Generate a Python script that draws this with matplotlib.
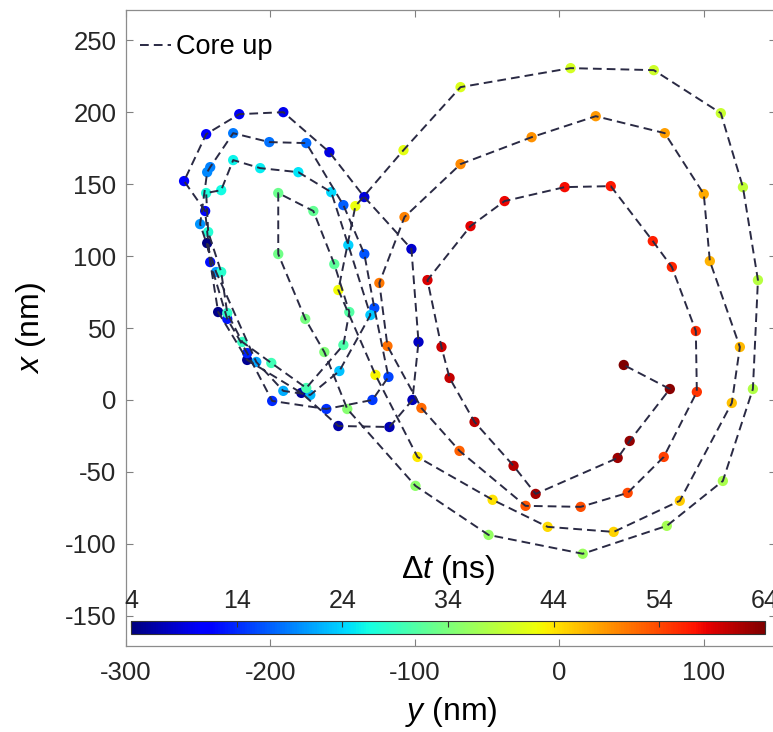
import numpy as np
import matplotlib
matplotlib.use("Agg")
import matplotlib.pyplot as plt

plt.rcParams['font.family'] = ['Liberation Sans', 'DejaVu Sans']
plt.rcParams['mathtext.fontset'] = 'custom'
plt.rcParams['mathtext.rm'] = 'Liberation Sans'
plt.rcParams['mathtext.it'] = 'Liberation Sans:italic'
plt.rcParams['axes.unicode_minus'] = False

# core position, in time order (y horizontal, x vertical), nm
y_nm = [
    -243.8, -236.2, -216.1, -178.6, -153.0, -117.6, -101.7, -97.5, -102.4, -135.0,
    -159.2, -191.1, -221.6, -244.5, -259.8, -245.2, -241.7, -229.9, -216.1, -198.8,
    -161.3, -129.4, -118.3, -128.1, -135.0, -149.5, -175.2, -200.8, -225.8, -241.7,
    -243.8, -248.7, -237.6, -209.8, -191.1, -172.4, -152.3, -130.8, -146.1, -157.9,
    -180.7, -207.1, -225.8, -234.1, -244.5, -243.1, -234.1, -229.9, -219.5, -199.4,
    -175.2, -149.5, -145.4, -155.8, -170.3, -194.6, -194.6, -175.9, -162.7, -146.8,
    -99.6, -49.0, 16.2, 74.4, 113.2, 134.0, 137.5, 127.1, 111.8, 65.4,
    7.8, -68.4, -107.9, -141.2, -153.0, -127.3, -98.2, -46.2, -8.1, 37.6,
    83.4, 119.4, 125.0, 104.2, 100.0, 73.0, 25.2, -19.2, -68.4, -107.2,
    -124.6, -119.0, -95.5, -69.1, -23.4, 14.8, 47.3, 72.3, 95.2, 94.5,
    77.9, 64.7, 35.6, 3.7, -37.9, -61.5, -91.3, -81.6, -76.0, -58.7,
    -31.7, -16.4, 40.4, 48.7, 76.5, 44.6,
]
x_nm = [
    109.0, 61.1, 27.8, 4.9, -18.1, -18.8, 0.0, 40.3, 104.9, 141.0,
    172.2, 200.0, 198.6, 184.7, 152.1, 131.3, 95.8, 56.3, 32.6, -0.7,
    -6.3, 0.0, 16.0, 63.9, 101.4, 135.4, 178.5, 179.2, 185.4, 161.8,
    158.3, 122.2, 88.9, 26.4, 6.3, 3.5, 20.1, 59.0, 107.6, 144.4,
    158.3, 161.1, 166.7, 145.8, 143.8, 116.7, 88.9, 60.4, 40.3, 25.7,
    8.3, 38.2, 61.1, 94.4, 131.3, 143.8, 101.4, 56.3, 33.3, -6.3,
    -59.7, -93.8, -106.9, -87.5, -56.3, 7.6, 83.3, 147.9, 199.3, 229.2,
    230.6, 217.4, 173.6, 134.7, 76.4, 17.4, -39.6, -69.4, -88.2, -91.7,
    -70.1, -2.1, 36.8, 96.5, 143.1, 185.4, 197.2, 182.6, 163.9, 127.1,
    81.3, 37.5, -5.6, -35.4, -73.6, -74.3, -64.6, -39.6, 5.6, 47.9,
    92.4, 110.4, 148.6, 147.9, 138.2, 120.8, 83.3, 36.8, 15.3, -15.3,
    -45.8, -65.3, -40.3, -28.5, 7.6, 24.3,
]
dt_ns = [
    4.0, 4.5, 5.0, 5.6, 6.1, 6.6, 7.1, 7.7, 8.2, 8.7,
    9.2, 9.7, 10.3, 10.8, 11.3, 11.8, 12.3, 12.9, 13.4, 13.9,
    14.4, 15.0, 15.5, 16.0, 16.5, 17.0, 17.6, 18.1, 18.6, 19.1,
    19.7, 20.2, 20.7, 21.2, 21.7, 22.3, 22.8, 23.3, 23.8, 24.3,
    24.9, 25.4, 25.9, 26.4, 27.0, 27.5, 28.0, 28.5, 29.0, 29.6,
    30.1, 30.6, 31.1, 31.7, 32.2, 32.7, 33.2, 33.7, 34.3, 34.8,
    35.3, 35.8, 36.3, 36.9, 37.4, 37.9, 38.4, 39.0, 39.5, 40.0,
    40.5, 41.0, 41.6, 42.1, 42.6, 43.1, 43.7, 44.2, 44.7, 45.2,
    45.7, 46.3, 46.8, 47.3, 47.8, 48.3, 48.9, 49.4, 49.9, 50.4,
    51.0, 51.5, 52.0, 52.5, 53.0, 53.6, 54.1, 54.6, 55.1, 55.7,
    56.2, 56.7, 57.2, 57.7, 58.3, 58.8, 59.3, 59.8, 60.3, 60.9,
    61.4, 61.9, 62.4, 63.0, 63.5, 64.0,
]
cbar_ticks = [4, 14, 24, 34, 44, 54, 64]
x_ticks = [-300, -200, -100, 0, 100]
y_ticks = [-150, -100, -50, 0, 50, 100, 150, 200, 250]

fig = plt.figure(figsize=(7.73, 7.32), dpi=100)
ax = fig.add_axes([126/773, 86/732, 650/773, 636/732])

sc = ax.scatter(y_nm, x_nm, c=dt_ns, cmap='jet', vmin=4, vmax=64,
                s=55, edgecolors='none', zorder=2)
ax.plot(y_nm, x_nm, ls=(0, (4.5, 2.6)), color='#2a2a44', lw=1.4,
        zorder=3, label='Core up')

ax.set_xlim(-300, 150)
ax.set_ylim(-171, 271)
ax.set_xticks(x_ticks)
ax.set_yticks(y_ticks)
ax.tick_params(direction='in', length=5, width=0.8, color='#808080',
               labelsize=18.5, labelcolor='#262626', top=True, right=True)
ax.tick_params(axis='y', pad=7)
ax.tick_params(axis='x', pad=11)
for sp in ax.spines.values():
    sp.set_color('#8c8c8c')
    sp.set_linewidth(0.9)

ax.set_xlabel(r'$y$ (nm)', fontsize=23, labelpad=7)
ax.set_ylabel(r'$x$ (nm)', fontsize=23, labelpad=12)

leg = ax.legend(loc='upper left', frameon=False, fontsize=19.5,
                handlelength=1.15, handletextpad=0.2, borderaxespad=0.1,
                bbox_to_anchor=(0.0, 0.983))

cax = fig.add_axes([131/773, 98/732, 634/773, 13/732])
cb = fig.colorbar(sc, cax=cax, orientation='horizontal')
cb.set_ticks(cbar_ticks)
cax.xaxis.set_ticks_position('top')
cax.xaxis.set_label_position('top')
cax.tick_params(direction='in', length=4, width=0.8, color='#333333',
                labelsize=18, labelcolor='#262626', pad=6)
cb.outline.set_edgecolor('#333333')
cb.outline.set_linewidth(0.8)
cb.set_label(r'$\Delta t$ (ns)', fontsize=23, labelpad=8)

fig.savefig('out.png', dpi=100, facecolor='white')
